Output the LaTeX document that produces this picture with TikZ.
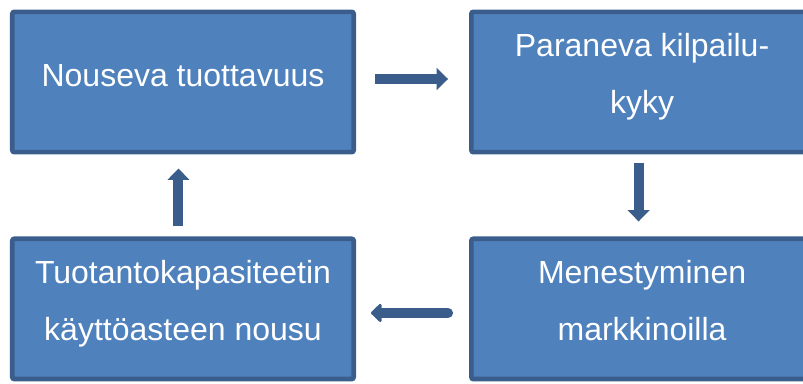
\documentclass[tikz,border=0pt]{standalone}
\usepackage{fontspec}
\setmainfont{Liberation Sans}
\usetikzlibrary{arrows.meta, % 箭头的library
  positioning}              % 相对地放置节点
\definecolor{lohkosini}{HTML}{4F81BD}
\definecolor{reunasini}{HTML}{3A5D8C}

\begin{document}
\begin{tikzpicture}[node distance=65pt and 88.3pt,
  % 方框的style:蓝色填充,白色文字(两行文字)
  {lohko}/.style={draw=reunasini,fill=lohkosini,line width=3.5pt,rounded corners=1.5pt,
    outer sep=0pt,minimum width=256pt,minimum height=105.2pt,text=white,align=center,
    font=\fontsize{24}{42.75}\selectfont,text height=60.75pt,text depth=13.25pt},
  % 只有一行文字的方框
  {yksi rivi}/.style={text height=18pt,text depth=12pt},
  % 粗的箭头
  {nuoli}/.style={draw=reunasini,line width=7.5pt,-{Triangle[width=16pt,length=8.5pt]}}]

  \path [use as bounding box,clip] (-137.25pt,61.5pt) rectangle (465pt,-225.75pt);

  \node [lohko,yksi rivi] (tuotto) {Nouseva tuottavuus};
  \node [lohko] (kilpailu) [right=of tuotto] {Paraneva kilpailu-\\kyky};
  \node [lohko] (markkinat) [below=of kilpailu] {Menestyminen\\markkinoilla};
  \node [lohko] (kapasiteetti) [left=of markkinat] {Tuotantokapasiteetin\\käyttöasteen nousu};

  % 四个箭头,形成一个循环
  \draw [nuoli,shorten <=16pt,shorten >=17.5pt]
    ([yshift=2.25pt]tuotto.east) -- ([yshift=2.25pt]kilpailu.west);
  \draw [nuoli,shorten <=7.8pt,shorten >=13pt]
    ([xshift=-2.6pt]kilpailu.south) -- ([xshift=-2.6pt]markkinat.north);
  \draw [nuoli,line cap=round,-{Triangle[width=16pt,length=8.5pt,round]},shorten <=17.5pt,shorten >=13pt]
    ([yshift=-3pt]markkinat.west) -- ([yshift=-3pt]kapasiteetti.east);
  \draw [nuoli,shorten <=9.3pt,shorten >=12.3pt]
    ([xshift=-3.4pt]kapasiteetti.north) -- ([xshift=-3.4pt]tuotto.south);

\end{tikzpicture}
\end{document}
